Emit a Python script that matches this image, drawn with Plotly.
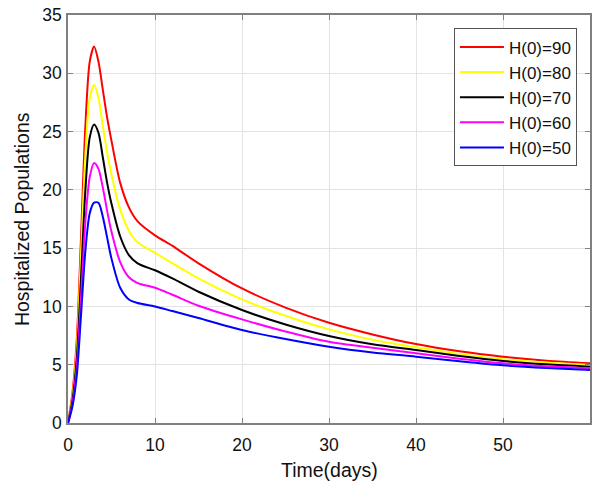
import plotly.graph_objects as go

t = [0, 0.5, 1, 1.5, 2, 2.5, 3, 3.5, 4, 4.5, 5, 6, 7, 8, 10, 12, 15, 20, 25, 30, 35, 40, 45, 50, 55, 60]

h90 = [0, 2.5, 7.0, 16.0, 25.5, 31.0, 32.3, 31.0, 28.6, 26.2, 24.2, 20.6, 18.5, 17.3, 16.1, 15.2, 13.7, 11.54, 9.9, 8.6, 7.6, 6.77, 6.15, 5.69, 5.35, 5.12]
h80 = [0, 2.2, 6.3, 14.5, 23.0, 27.9, 29.0, 27.9, 25.5, 23.2, 21.3, 18.3, 16.5, 15.5, 14.6, 13.7, 12.4, 10.6, 9.2, 8.03, 7.15, 6.49, 5.93, 5.46, 5.18, 4.97]
h70 = [0, 1.9, 5.5, 12.5, 20.0, 24.5, 25.6, 24.9, 22.8, 20.6, 18.8, 16.0, 14.4, 13.7, 13.1, 12.4, 11.26, 9.69, 8.45, 7.46, 6.75, 6.26, 5.75, 5.32, 5.03, 4.83]
h60 = [0, 1.6, 4.7, 10.8, 17.3, 21.1, 22.3, 21.8, 20.2, 18.2, 16.4, 13.8, 12.5, 12.0, 11.6, 11.0, 10.06, 8.89, 7.85, 6.97, 6.45, 5.98, 5.52, 5.12, 4.86, 4.69]
h50 = [0, 1.4, 4.0, 9.3, 14.8, 18.0, 18.9, 18.9, 17.7, 15.9, 14.1, 11.6, 10.6, 10.3, 10.0, 9.6, 9.0, 7.97, 7.2, 6.54, 6.05, 5.69, 5.3, 4.95, 4.72, 4.55]

series = [
    ("H(0)=90", h90, "#ff0000"),
    ("H(0)=80", h80, "#ffff00"),
    ("H(0)=70", h70, "#000000"),
    ("H(0)=60", h60, "#ff00ff"),
    ("H(0)=50", h50, "#0000ff"),
]

xticks = [0, 10, 20, 30, 40, 50]
yticks = [0, 5, 10, 15, 20, 25, 30, 35]

fig = go.Figure()
for i, (name, ys, col) in enumerate(series):
    fig.add_trace(go.Scatter(
        x=t, y=ys, name=name, mode="lines",
        line=dict(color=col, width=2, shape="spline", smoothing=0.8),
    ))

font = "Liberation Sans, Arial, sans-serif"
axis_common = dict(
    showline=True, linecolor="#808080", linewidth=1.5, mirror="ticks",
    ticks="inside", ticklen=5, tickcolor="#808080",
    showgrid=True, gridcolor="#e3e3e3", gridwidth=1,
    zeroline=False, automargin=False,
    tickfont=dict(family=font, size=17.5, color="#111"),
)

fig.update_layout(
    width=604, height=485,
    margin=dict(l=68, r=14, t=15, b=62),
    paper_bgcolor="white", plot_bgcolor="white",
    font=dict(family=font, color="#111"),
    xaxis=dict(range=[0, 60], tickvals=xticks, ticklabelstandoff=5, **axis_common),
    yaxis=dict(range=[0, 35], tickvals=yticks, ticklabelstandoff=1, **axis_common),
    legend=dict(
        x=0.975, y=0.967, xanchor="right", yanchor="top",
        bgcolor="white", bordercolor="#555", borderwidth=1,
        font=dict(family=font, size=17, color="#111"),
        tracegroupgap=0, itemwidth=44,
    ),
    showlegend=True,
    annotations=[
        dict(text="Time(days)", xref="paper", yref="paper", x=0.5, y=-0.115,
             xanchor="center", yanchor="middle", showarrow=False,
             font=dict(family=font, size=19.5, color="#111")),
        dict(text="Hospitalized Populations", xref="paper", yref="paper", x=-0.088, y=0.5,
             xanchor="center", yanchor="middle", showarrow=False, textangle=-90,
             font=dict(family=font, size=19.5, color="#111")),
    ],
)

fig.write_html("out.html")
